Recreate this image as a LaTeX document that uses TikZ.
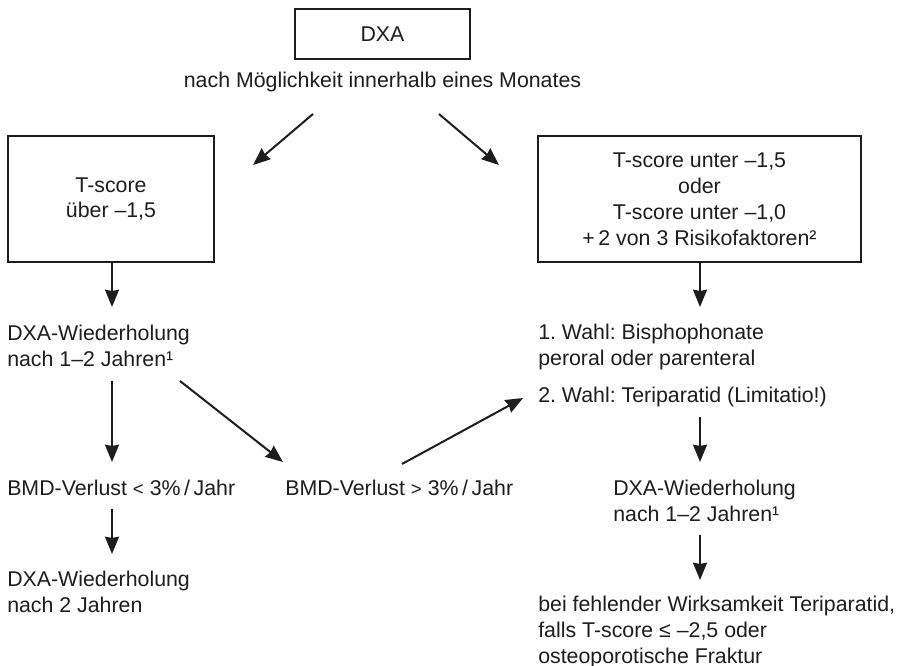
\documentclass[tikz,border=0pt]{standalone}
\usepackage{fontspec}
\setmainfont{Liberation Sans}
\usepackage{tikz}
\usetikzlibrary{arrows.meta}
\frenchspacing
\definecolor{ink}{RGB}{30, 28, 28}
\tikzstyle{box}=[rectangle,draw=ink,line width=1.5pt,text=ink,align=center,
  inner sep=0pt,font=\fontsize{16}{19.4}\selectfont]
\tikzstyle{txt}=[text=ink,align=left,anchor=base west,inner sep=0pt,
  font=\fontsize{16}{19.2}\selectfont]
\tikzstyle{arr}=[draw=ink,line width=1.5pt,
  -{Stealth[length=13pt,width=10.5pt,inset=1pt]}]
\tikzstyle{none}=[inner sep=0pt,minimum size=0pt]
\newcommand{\cmpsym}[1]{{\fontsize{14}{14}\selectfont#1}}

\begin{document}
\begin{tikzpicture}[x=0.75pt,y=-0.75pt]
            \useasboundingbox (0, 0) rectangle (912, 666);
            % boxes
            \node [style=box,minimum width=131.25pt,minimum height=37.5pt] (0) at (382.5, 34) {DXA};
            \node [style=txt,anchor=base] (1) at (382.5, 88) {nach Möglichkeit innerhalb eines Monates};
            \node [style=box,minimum width=154.5pt,minimum height=94.5pt] (2) at (111, 199) {T-score\\über –1,5};
            \node [style=box,minimum width=242.25pt,minimum height=94.5pt] (3) at (699.5, 199) {T-score unter –1,5\\oder\\T-score unter –1,0\\+\,2 von 3 Risikofaktoren²};
            % text (base = last line)
            \node [style=txt] (4) at (7, 366) {DXA-Wiederholung\\nach 1–2 Jahren¹};
            \node [style=txt] (5) at (7, 495) {BMD-Verlust \cmpsym{<} 3\%\,/\,Jahr};
            \node [style=txt] (6) at (285, 495) {BMD-Verlust \cmpsym{>} 3\%\,/\,Jahr};
            \node [style=txt] (7) at (7, 612) {DXA-Wiederholung\\nach 2 Jahren};
            \node [style=txt] (8) at (538, 365) {1. Wahl: Bisphophonate\\peroral oder parenteral};
            \node [style=txt] (9) at (538, 402) {2. Wahl: Teriparatid (Limitatio!)};
            \node [style=txt] (10) at (613, 521) {DXA-Wiederholung\\nach 1–2 Jahren¹};
            \node [style=txt] (11) at (538, 663) {bei fehlender Wirksamkeit Teriparatid,\\falls T-score ≤ –2,5 oder\\osteoporotische Fraktur};
            % arrow ends
            \node [style=none] (20) at (313, 114) {};
            \node [style=none] (21) at (253, 165) {};
            \node [style=none] (22) at (439, 114) {};
            \node [style=none] (23) at (499, 165) {};
            \node [style=none] (24) at (112, 307) {};
            \node [style=none] (25) at (700, 307) {};
            \node [style=none] (26) at (112, 381) {};
            \node [style=none] (27) at (112, 462) {};
            \node [style=none] (28) at (180, 381) {};
            \node [style=none] (29) at (283, 462) {};
            \node [style=none] (30) at (402, 464) {};
            \node [style=none] (31) at (523, 398) {};
            \node [style=none] (32) at (112, 509) {};
            \node [style=none] (33) at (112, 554) {};
            \node [style=none] (34) at (700, 417) {};
            \node [style=none] (35) at (700, 462) {};
            \node [style=none] (36) at (700, 535) {};
            \node [style=none] (37) at (700, 580) {};
            \draw [style=arr] (20.center) to (21.center);
            \draw [style=arr] (22.center) to (23.center);
            \draw [style=arr] (2.south -| 24) to (24.center);
            \draw [style=arr] (3.south -| 25) to (25.center);
            \draw [style=arr] (26.center) to (27.center);
            \draw [style=arr] (28.center) to (29.center);
            \draw [style=arr] (30.center) to (31.center);
            \draw [style=arr] (32.center) to (33.center);
            \draw [style=arr] (34.center) to (35.center);
            \draw [style=arr] (36.center) to (37.center);
\end{tikzpicture}
\end{document}
